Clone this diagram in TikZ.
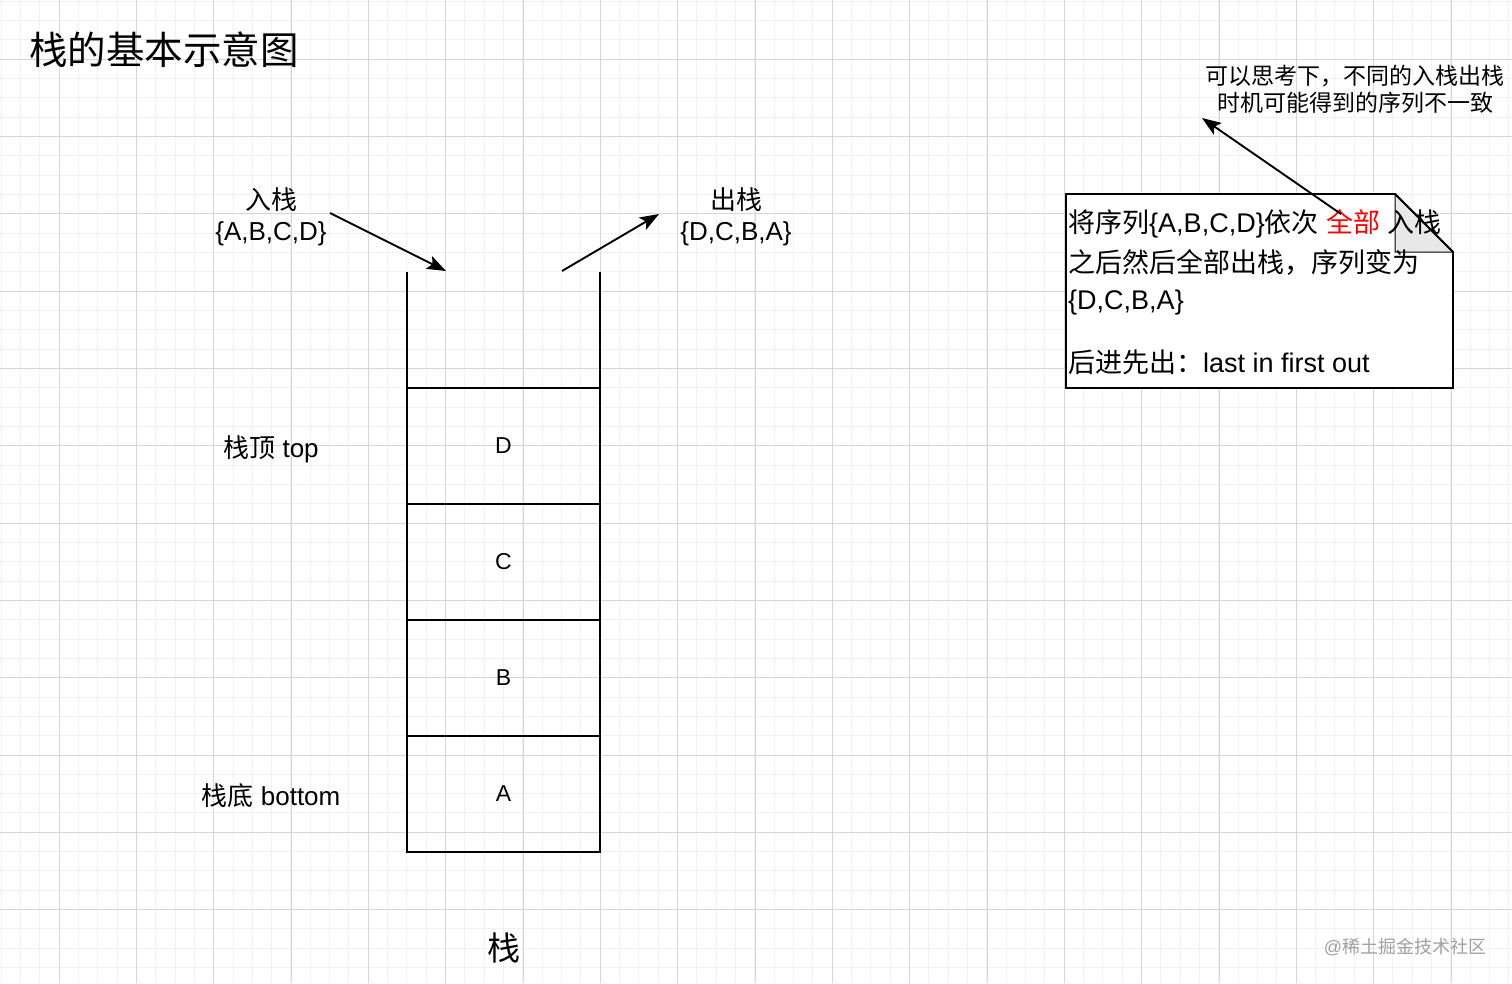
\documentclass[tikz,border=0pt]{standalone}
\usepackage{fontspec}
\setmainfont{Liberation Sans}
\newfontfamily\cjk{Noto Sans CJK SC}
\usetikzlibrary{arrows.meta}
\newcommand\fsz[1]{\fontsize{#1}{#1}\selectfont}
\definecolor{majorgrid}{RGB}{214,214,214}
\definecolor{minorgrid}{RGB}{241,241,241}
\definecolor{foldgray}{RGB}{232,232,232}
\definecolor{redtext}{RGB}{255,0,0}
\definecolor{wmark}{RGB}{160,160,160}
\begin{document}
\begin{tikzpicture}[x=1pt,y=-1pt,
  minorline/.style={draw=minorgrid, line width=1pt},
  majorline/.style={draw=majorgrid, line width=1pt},
  lbl/.style={inner sep=0pt, font=\fsz{26}, anchor=base},
  cell/.style={draw, line width=2pt, minimum width=193pt, minimum height=116pt, inner sep=0pt, outer sep=0pt, font=\fsz{23}},
  stk/.style={line width=2pt},
  arr/.style={line width=1.9pt, -{Stealth[length=19pt,width=14pt,inset=4pt]}},
  notetext/.style={inner sep=0pt, font=\fsz{27}, anchor=base west},
  note/.style={draw, fill=white, line width=1.9pt, line join=miter}
]
\useasboundingbox (0,0) rectangle (1512,983);
\fill[white] (0,0) rectangle (1512,983);
% grid
\foreach \i in {-3,...,75} {\draw[minorline] ({59+19.333*\i},0) -- ({59+19.333*\i},983);}
\foreach \j in {-3,...,47} {\draw[minorline] (0,{59+19.333*\j}) -- (1512,{59+19.333*\j});}
\foreach \i in {0,...,18} {\draw[majorline] ({59+77.333*\i},0) -- ({59+77.333*\i},983);}
\foreach \j in {0,...,11} {\draw[majorline] (0,{59+77.333*\j}) -- (1512,{59+77.333*\j});}

% title
\node[inner sep=0pt, font=\fsz{38.5}, anchor=base west] (title) at (29,64) {\cjk 栈的基本示意图};

% stack cells
\node[cell] (d) at (503.5,446) {D};
\node[cell] (c) at (503.5,562) {C};
\node[cell] (b) at (503.5,678) {B};
\node[cell] (a) at (503.5,794) {A};
\coordinate (tl) at (407,272);
\coordinate (tr) at (600,272);
\draw[stk] (tl) -- (d.north west);
\draw[stk] (tr) -- (d.north east);

% labels
\node[lbl] (inlbl) at (271,209) {\cjk 入栈};
\node[lbl] (inseq) at (271,240) {\{A,B,C,D\}};
\node[lbl] (outlbl) at (736,209) {\cjk 出栈};
\node[lbl] (outseq) at (736,240) {\{D,C,B,A\}};
\node[lbl] (toplbl) at (271,457) {{\cjk 栈顶} top};
\node[lbl] (botlbl) at (271,805) {{\cjk 栈底} bottom};
\node[inner sep=0pt, font=\fsz{33}, anchor=base] (stacklbl) at (503.5,960) {\cjk 栈};

% arrows
\coordinate (inS) at (330,213);
\coordinate (inE) at (446,271);
\coordinate (outS) at (562,271);
\coordinate (outE) at (659,214);
\draw[arr] (inS) -- (inE);
\draw[arr] (outS) -- (outE);

% note
\path[note] (1066,194) -- (1395,194) -- (1453,252) -- (1453,388) -- (1066,388) -- cycle;
\filldraw[fill=foldgray, line width=1pt] (1395,194) -- (1395,252) -- (1453,252) -- cycle;
\draw[line width=1.9pt] (1395,194) -- (1453,252);
\node[notetext] (n1) at (1068,232) {{\cjk 将序列}\{A,B,C,D\}{\cjk 依次} \textcolor{redtext}{\cjk 全部} {\cjk 入栈}};
\node[notetext] (n2) at (1068,272) {\cjk 之后然后全部出栈，序列变为};
\node[notetext] (n3) at (1068,309) {\{D,C,B,A\}};
\node[notetext] (n4) at (1068,372) {{\cjk 后进先出：}last in first out};

% remark
\node[inner sep=0pt, font=\fsz{23}, anchor=base] (q1) at (1355,84) {\cjk 可以思考下，不同的入栈出栈};
\node[inner sep=0pt, font=\fsz{23}, anchor=base] (q2) at (1355,111) {\cjk 时机可能得到的序列不一致};
\coordinate (nS) at (1341,214);
\coordinate (nE) at (1202,118);
\draw[arr] (nS) -- (nE);

% watermark
\node[inner sep=0pt, font=\fsz{18}, text=wmark, anchor=base] (wm) at (1405,953) {@{\cjk 稀土掘金技术社区}};
\end{tikzpicture}
\end{document}
